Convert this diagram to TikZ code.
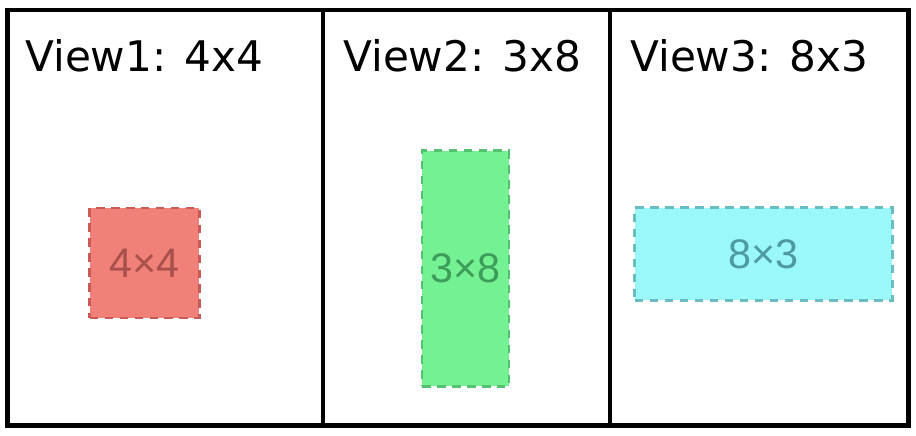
\documentclass[tikz,border=0pt]{standalone}
\usepackage{fontspec}
\setmainfont{DejaVu Sans}
\newfontfamily\sizefont{Liberation Sans}
\usetikzlibrary{positioning}

\definecolor{redfill}{HTML}{F08078}
\definecolor{redline}{HTML}{C85A58}
\definecolor{redtext}{HTML}{A8504C}
\definecolor{greenfill}{HTML}{74F293}
\definecolor{greenline}{HTML}{52C270}
\definecolor{greentext}{HTML}{3E9C5A}
\definecolor{cyanfill}{HTML}{9AF8F8}
\definecolor{cyanline}{HTML}{68BCC2}
\definecolor{cyantext}{HTML}{4E9AA2}

\tikzset{
  viewtitle/.style={anchor=base west, inner sep=0pt, font=\fontsize{24}{28}\selectfont},
  sizebox/.style={
    rectangle,
    dashed,
    dash pattern=on 0.17cm off 0.13cm,
    line width=1.5pt,
    inner sep=0pt,
    font=\sizefont\fontsize{23.5}{27}\selectfont
  }
}

\begin{document}
\begin{tikzpicture}[x=0.02cm, y=-0.02cm]
  \useasboundingbox (0,0) rectangle (916,436);

  \coordinate (d1top) at (323,10);
  \coordinate (d1bot) at (323,425);
  \coordinate (d2top) at (610,10);
  \coordinate (d2bot) at (610,425);

  \draw[line width=2.8pt] (7.5,10) rectangle (908.5,425.5);
  \draw[line width=2.3pt] (d1top) -- (d1bot);
  \draw[line width=2.3pt] (d2top) -- (d2bot);

  \node[viewtitle] (t1) at (25,71) {View1: 4x4};
  \node[viewtitle] (t2) at (343,71) {View2: 3x8};
  \node[viewtitle] (t3) at (630,71) {View3: 8x3};

  \node[
  sizebox,
  fill=redfill,
  draw=redline,
  text=redtext,
  minimum width=2.2cm,
  minimum height=2.2cm] (v1) at (144.5,263) {4×4};

  \node[
  sizebox,
  fill=greenfill,
  draw=greenline,
  text=greentext,
  minimum width=1.74cm,
  minimum height=4.72cm] (v2) at (465.5,268.5) {3×8};

  \node[
  sizebox,
  fill=cyanfill,
  draw=cyanline,
  text=cyantext,
  minimum width=5.16cm,
  minimum height=1.86cm] (v3) at (763.5,254) {8×3};
\end{tikzpicture}
\end{document}
